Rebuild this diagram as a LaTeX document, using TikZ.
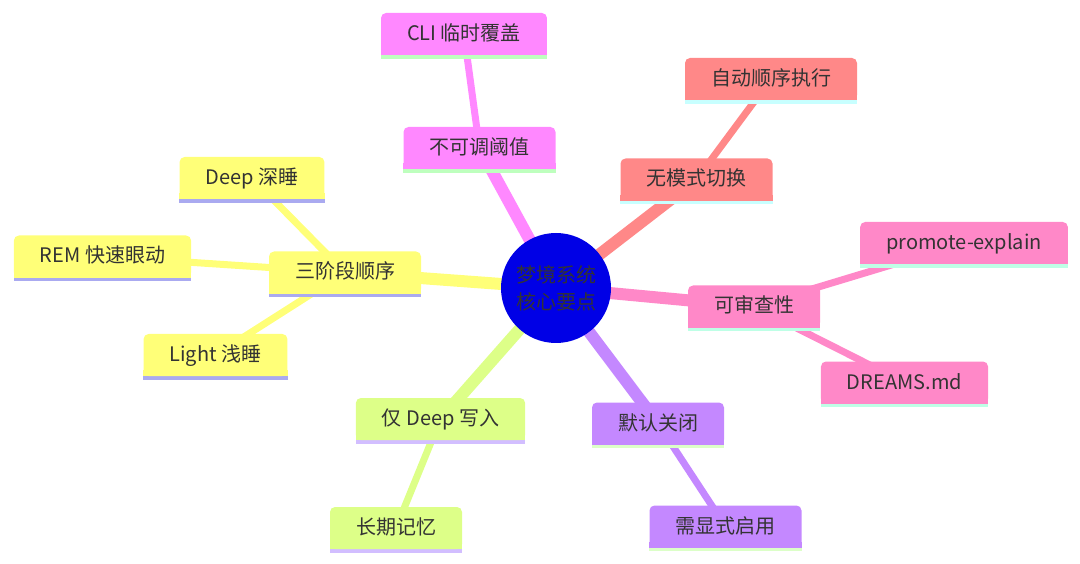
\documentclass[tikz,border=0pt]{standalone}
\usepackage{fontspec}
\setmainfont{Noto Sans CJK SC}
\usepackage{tikz}
\usetikzlibrary{positioning, backgrounds}

\definecolor{rootblue}{RGB}{0,0,230}
\definecolor{textgray}{RGB}{51,51,51}
\definecolor{magfill}{RGB}{255,136,255}
\definecolor{magline}{RGB}{190,255,190}
\definecolor{redfill}{RGB}{255,136,136}
\definecolor{redline}{RGB}{200,255,255}
\definecolor{pinkfill}{RGB}{255,136,200}
\definecolor{pinkline}{RGB}{190,255,230}
\definecolor{purpfill}{RGB}{196,136,255}
\definecolor{purpline}{RGB}{220,255,200}
\definecolor{limefill}{RGB}{221,255,136}
\definecolor{limeline}{RGB}{210,190,255}
\definecolor{yelfill}{RGB}{255,255,120}
\definecolor{yelline}{RGB}{170,170,240}

\begin{document}
\begin{tikzpicture}[
    x=1pt, y=-1pt,
    font=\fontsize{20}{27}\selectfont,
    text=textgray,
    root/.style={circle, fill=rootblue, minimum size=110pt, inner sep=0pt, align=center},
    leaf/.style 2 args={rectangle, rounded corners=5pt, fill=#1,
        minimum height=42pt, inner xsep=26pt, inner ysep=0pt,
        text height=17pt, text depth=4pt,
        append after command={\pgfextra{
            \fill[#1, sharp corners] ([yshift=6pt]\tikzlastnode.south west) rectangle (\tikzlastnode.south east);
            \fill[#2, sharp corners] (\tikzlastnode.south west) rectangle ([yshift=-3.5pt]\tikzlastnode.south east);}}},
    magbox/.style={leaf={magfill}{magline}},
    redbox/.style={leaf={redfill}{redline}},
    pinkbox/.style={leaf={pinkfill}{pinkline}},
    purpbox/.style={leaf={purpfill}{purpline}},
    limebox/.style={leaf={limefill}{limeline}},
    yelbox/.style={leaf={yelfill}{yelline}},
    trunk/.style={line width=12pt},
    twig/.style={line width=7pt}]

  \useasboundingbox (0,0) rectangle (1080,564);

  % Root
  \node (root) [root] at (556,288) {梦境系统\\核心要点};

  % Upper branches
  \node (thresh) [magbox] at (479.5,148) {不可调阈值};
  \node (cli) [magbox] at (464,34) {CLI 临时覆盖};
  \node (noswitch) [redbox] at (696.5,179.5) {无模式切换};
  \node (autorun) [redbox] at (771,79) {自动顺序执行};

  % Right branch
  \node (audit) [pinkbox] at (754,306.5) {可审查性};
  \node (promote) [pinkbox] at (964,243) {promote-explain};
  \node (dreams) [pinkbox] at (904.5,382.5) {DREAMS.md};

  % Lower branches
  \node (offdef) [purpbox] at (658,423.5) {默认关闭};
  \node (explicit) [purpbox] at (725.5,526.5) {需显式启用};
  \node (deeponly) [limebox] at (440.5,419) {仅 Deep 写入};
  \node (longmem) [limebox] at (396,528) {长期记忆};

  % Left branch
  \node (phases) [yelbox] at (345,272.5) {三阶段顺序};
  \node (deep) [yelbox] at (252,178) {Deep 深睡};
  \node (rem) [yelbox] at (102.5,256.5) {REM 快速眼动};
  \node (light) [yelbox] at (215.5,355) {Light 浅睡};

  % Edges behind the boxes
  \begin{scope}[on background layer]
    \draw [trunk, magfill] (root.center) -- (thresh.center);
    \draw [trunk, redfill] (root.center) -- (noswitch.center);
    \draw [trunk, pinkfill] (root.center) -- (audit.center);
    \draw [trunk, purpfill] (root.center) -- (offdef.center);
    \draw [trunk, limefill] (root.center) -- (deeponly.center);
    \draw [trunk, yelfill] (root.center) -- (phases.center);

    \draw [twig, magfill] (thresh.center) -- (cli.center);
    \draw [twig, redfill] (noswitch.center) -- (autorun.center);
    \draw [twig, pinkfill] (audit.center) -- (promote.center);
    \draw [twig, pinkfill] (audit.center) -- (dreams.center);
    \draw [twig, purpfill] (offdef.center) -- (explicit.center);
    \draw [twig, limefill] (deeponly.center) -- (longmem.center);
    \draw [twig, yelfill] (phases.center) -- (deep.center);
    \draw [twig, yelfill] (phases.center) -- (rem.center);
    \draw [twig, yelfill] (phases.center) -- (light.center);
  \end{scope}
\end{tikzpicture}
\end{document}
